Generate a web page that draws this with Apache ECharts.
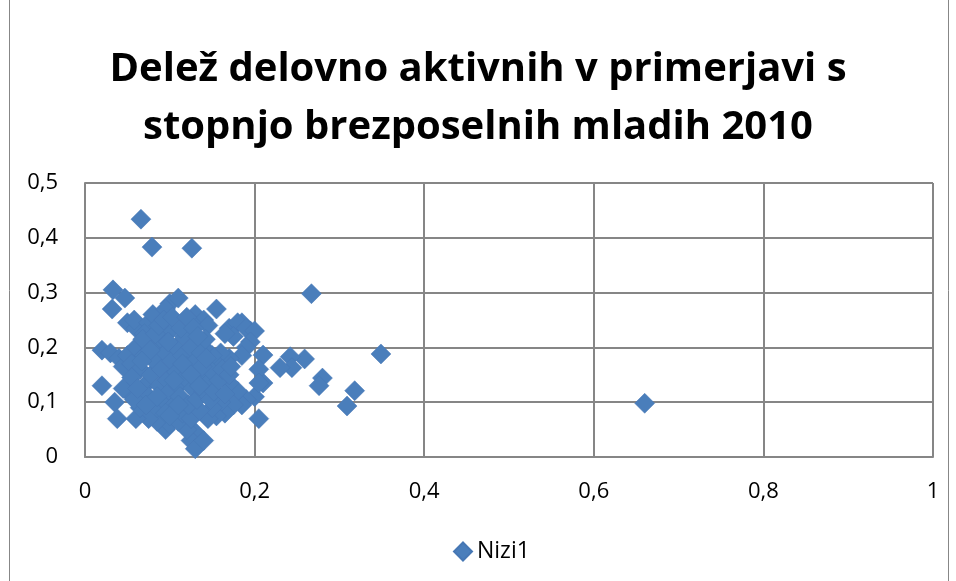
<!DOCTYPE html>
<html>
<head>
<meta charset="utf-8">
<script src="https://cdn.jsdelivr.net/npm/echarts@6/dist/echarts.min.js"></script>
<style>
html,body{margin:0;padding:0;background:#fff;}
#main{width:956px;height:581px;}
</style>
</head>
<body>
<div id="main"></div>
<script>
var titleText = 'Delež delovno aktivnih v primerjavi s\nstopnjo brezposelnih mladih 2010';
var seriesName = 'Nizi1';

// [x, y] pairs
var points = [
    [0.066,0.434],[0.079,0.383],[0.126,0.381],[0.267,0.298],[0.349,0.188],[0.660,0.098],
    [0.318,0.121],[0.309,0.093],[0.280,0.144],[0.276,0.130],[0.259,0.179],[0.242,0.183],
    [0.244,0.163],[0.230,0.163],[0.210,0.186],[0.205,0.070],[0.200,0.110],[0.210,0.135],
    [0.185,0.245],[0.195,0.230],
    [0.033,0.305],[0.047,0.290],[0.032,0.270],[0.050,0.245],[0.060,0.235],[0.058,0.250],
    [0.075,0.245],[0.080,0.260],[0.070,0.225],[0.100,0.280],[0.110,0.290],[0.095,0.270],
    [0.130,0.260],[0.140,0.250],[0.155,0.270],[0.145,0.240],[0.125,0.245],[0.170,0.235],
    [0.180,0.245],[0.190,0.235],[0.175,0.220],[0.165,0.225],
    [0.020,0.195],[0.030,0.190],[0.040,0.180],[0.045,0.165],[0.020,0.130],[0.035,0.100],
    [0.038,0.070],[0.050,0.120],[0.045,0.125],[0.050,0.185],[0.055,0.170],
    [0.200,0.230],[0.195,0.210],[0.205,0.160],[0.205,0.135],[0.190,0.105],[0.185,0.095],
    [0.180,0.120],[0.170,0.135],[0.175,0.095],[0.165,0.080],[0.160,0.100],[0.155,0.075],
    [0.145,0.070],[0.150,0.090],[0.190,0.200],[0.185,0.185],[0.170,0.180],[0.160,0.190],
    [0.155,0.170],[0.150,0.185],[0.140,0.200],[0.145,0.160],
    [0.130,0.045],[0.125,0.030],[0.130,0.015],[0.140,0.030],[0.120,0.050],[0.095,0.050],
    [0.100,0.060],[0.085,0.065],[0.075,0.070],[0.060,0.070],[0.065,0.090],[0.110,0.065],
    [0.115,0.080],[0.125,0.070],[0.135,0.085],
    [0.060,0.200],[0.065,0.160],[0.070,0.130],[0.070,0.185],[0.075,0.110],[0.078,0.150],
    [0.080,0.200],[0.082,0.175],[0.085,0.090],[0.088,0.130],[0.090,0.215],[0.090,0.160],
    [0.092,0.105],[0.095,0.190],[0.097,0.140],[0.100,0.120],[0.100,0.230],[0.102,0.175],
    [0.105,0.095],[0.107,0.200],[0.108,0.155],[0.110,0.130],[0.112,0.110],[0.115,0.185],
    [0.117,0.220],[0.118,0.145],[0.120,0.165],[0.122,0.095],[0.125,0.200],[0.127,0.125],
    [0.130,0.175],[0.132,0.105],[0.135,0.150],[0.137,0.190],[0.140,0.120],[0.142,0.215],
    [0.145,0.135],[0.148,0.105],[0.150,0.155],[0.152,0.120],[0.158,0.140],[0.162,0.160],
    [0.165,0.115],[0.170,0.150],[0.172,0.165],
    [0.055,0.145],[0.058,0.105],[0.062,0.125],[0.068,0.215],[0.072,0.095],[0.083,0.225],
    [0.087,0.240],[0.093,0.250],[0.098,0.210],[0.103,0.255],[0.113,0.235],[0.120,0.255],
    [0.128,0.235],[0.133,0.220],[0.138,0.165],[0.143,0.180],[0.085,0.110],[0.095,0.080],
    [0.105,0.140],[0.115,0.170],[0.125,0.150],[0.135,0.130],[0.077,0.195],[0.067,0.175],
    [0.100,0.075],[0.110,0.095]
];

var xTicks = {min: 0, max: 1, interval: 0.2};
var yTicks = {min: 0, max: 0.5, interval: 0.1};

function comma(v) {
    return String(Math.round(v * 10) / 10).replace('.', ',');
}

var chart = echarts.init(document.getElementById('main'));

var option = {
    animation: false,
    backgroundColor: '#fff',
    title: {
        text: titleText,
        left: 'center',
        top: 36,
        padding: [5, 0, 5, 20],
        textStyle: {
            fontFamily: 'Open Sans',
            fontWeight: 'bold',
            fontSize: 40,
            lineHeight: 58,
            color: '#000'
        }
    },
    graphic: [{
        type: 'rect',
        shape: {x: 9.5, y: -1, width: 939, height: 583},
        style: {fill: 'none', stroke: '#878787', lineWidth: 1},
        silent: true
    }],
    legend: {
        data: [seriesName],
        top: 535,
        left: 448,
        itemWidth: 18,
        itemHeight: 18,
        itemGap: 6,
        textStyle: {fontFamily: 'Open Sans', fontSize: 23, color: '#000'}
    },
    grid: {
        left: 85,
        right: 23,
        top: 183,
        bottom: 124
    },
    xAxis: {
        type: 'value',
        min: xTicks.min,
        max: xTicks.max,
        interval: xTicks.interval,
        axisLine: {show: true, lineStyle: {color: '#868686', width: 2}},
        axisTick: {show: false},
        splitLine: {show: true, lineStyle: {color: '#868686', width: 2}},
        axisLabel: {
            margin: 24,
            fontFamily: 'Open Sans',
            fontSize: 22,
            color: '#000',
            formatter: comma
        }
    },
    yAxis: {
        type: 'value',
        min: yTicks.min,
        max: yTicks.max,
        interval: yTicks.interval,
        axisLine: {show: true, lineStyle: {color: '#868686', width: 2}},
        axisTick: {show: false},
        splitLine: {show: true, lineStyle: {color: '#868686', width: 2}},
        axisLabel: {
            margin: 27,
            fontFamily: 'Open Sans',
            fontSize: 22,
            color: '#000',
            formatter: comma
        }
    },
    series: [{
        name: seriesName,
        type: 'scatter',
        symbol: 'diamond',
        symbolSize: 20,
        itemStyle: {color: '#4a7ebb', borderColor: '#4677b4', borderWidth: 0.5, opacity: 1},
        data: points
    }]
};

chart.setOption(option);
</script>
</body>
</html>
